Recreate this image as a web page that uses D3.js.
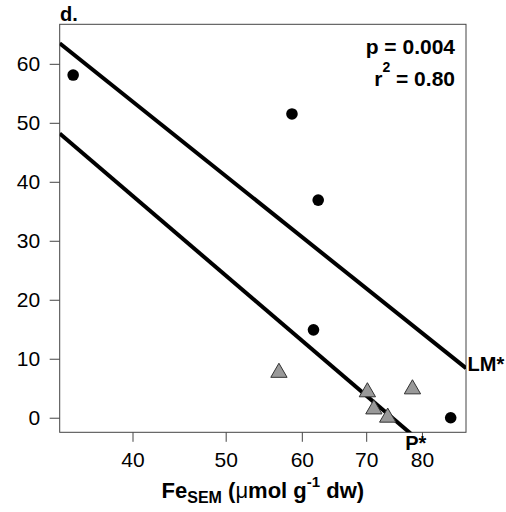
<!DOCTYPE html>
<html>
<head>
<meta charset="utf-8">
<script src="https://cdn.jsdelivr.net/npm/d3@7"></script>
<style>
  body { margin: 0; background: #fff; }
  svg { font-family: "Liberation Sans", Arial, Helvetica, sans-serif; }
</style>
</head>
<body>
<svg id="chart" width="506" height="512"></svg>
<script>
// ---- data
const lmFe  = [34.7, 58.6, 62.4, 61.7, 85.7];   // black points (LM)
const lmVal = [58.1, 51.5, 36.9, 14.9, 0.0];
const pFe   = [56.8, 70.2, 71.3, 73.7, 78.2];   // grey triangles (P)
const pVal  = [7.9, 4.6, 1.7, 0.3, 5.1];
// fits: y = a + b * ln(x)
const lmFit = [262.4, -56.6];
const pFit  = [260.8, -60.5];
const xTicks = [40, 50, 60, 70, 80];
const yTicks = [0, 10, 20, 30, 40, 50, 60];
const xDomain = [33.6, 88.9];
const yDomain = [-2.47, 66.7];

const svg = d3.select('#chart');
const box = { left: 59.7, right: 466, top: 24.3, bottom: 432.3 };

const x = d3.scaleLog().domain(xDomain).range([box.left, box.right]);
const y = d3.scaleLinear().domain(yDomain).range([box.bottom, box.top]);

// ---- clip for the fit lines
svg.append('clipPath').attr('id', 'plotclip')
  .append('rect')
  .attr('x', box.left).attr('y', box.top)
  .attr('width', box.right - box.left).attr('height', box.bottom - box.top);

// ---- axes
const xAxis = d3.axisBottom(x).tickValues(xTicks).tickFormat(d3.format('d'))
  .tickSize(9.5).tickPadding(10).tickSizeOuter(0);
const gx = svg.append('g').attr('transform', `translate(0,${box.bottom})`).call(xAxis);

const yAxis = d3.axisLeft(y).tickValues(yTicks).tickFormat(d3.format('d'))
  .tickSize(10).tickPadding(9.5).tickSizeOuter(0);
const gy = svg.append('g').attr('transform', `translate(${box.left},0)`).call(yAxis);

[gx, gy].forEach(g => {
  g.select('.domain').remove();
  g.selectAll('.tick line').attr('stroke', '#444').attr('stroke-width', 1);
  g.selectAll('.tick text').attr('fill', '#000').style('font-size', '21px')
    .style('font-family', '"Liberation Sans", Arial, sans-serif');
});

// ---- box
svg.append('rect')
  .attr('x', box.left).attr('y', box.top)
  .attr('width', box.right - box.left).attr('height', box.bottom - box.top)
  .attr('fill', 'none').attr('stroke', '#444').attr('stroke-width', 1);

// ---- fit lines (straight on a log-x axis)
const fitY = (f, v) => f[0] + f[1] * Math.log(v);
const lines = svg.append('g').attr('clip-path', 'url(#plotclip)');
[lmFit, pFit].forEach(f => {
  const pts = xDomain.map(v => [x(v), y(fitY(f, v))]);
  lines.append('path')
    .attr('d', d3.line()(pts))
    .attr('fill', 'none').attr('stroke', '#000').attr('stroke-width', 4);
});

// ---- points
svg.append('g').selectAll('circle')
  .data(lmFe.map((v, i) => [v, lmVal[i]]))
  .join('circle')
  .attr('cx', d => x(d[0])).attr('cy', d => y(d[1]))
  .attr('r', 5.8).attr('fill', '#000');

const tri = d3.symbol().type(d3.symbolTriangle).size(115);
svg.append('g').selectAll('path')
  .data(pFe.map((v, i) => [v, pVal[i]]))
  .join('path')
  .attr('d', tri)
  .attr('transform', d => `translate(${x(d[0])},${y(d[1]) + 1.5})`)
  .attr('fill', '#999').attr('stroke', '#333').attr('stroke-width', 1);

// ---- line labels
const lmEndY = y(fitY(lmFit, xDomain[1]));
svg.append('text')
  .attr('x', box.right + 1.5).attr('y', lmEndY + 3)
  .style('font-size', '20px').style('font-weight', 'bold')
  .text('LM*');

// where the P line leaves through the bottom of the box
const pExitX = x(Math.exp((yDomain[0] - pFit[0]) / pFit[1]));
svg.append('text')
  .attr('x', pExitX - 4).attr('y', box.bottom + 17.5)
  .style('font-size', '20px').style('font-weight', 'bold')
  .text('P*');

// ---- stats
svg.append('text')
  .attr('x', 455).attr('y', 54).attr('text-anchor', 'end')
  .style('font-size', '21px').style('font-weight', 'bold')
  .text('p = 0.004');

const r2 = svg.append('text')
  .attr('x', 455).attr('y', 86).attr('text-anchor', 'end')
  .style('font-size', '21px').style('font-weight', 'bold');
r2.append('tspan').text('r');
r2.append('tspan').attr('dy', -14).style('font-size', '14px').text('2');
r2.append('tspan').attr('dy', 14).text(' = 0.80');

// ---- panel letter
svg.append('text')
  .attr('x', 60).attr('y', 21)
  .style('font-size', '20px').style('font-weight', 'bold')
  .text('d.');

// ---- x axis title
const xt = svg.append('text')
  .attr('x', (box.left + box.right) / 2).attr('y', 498)
  .attr('text-anchor', 'middle')
  .style('font-size', '22px').style('font-weight', 'bold');
xt.append('tspan').text('Fe');
xt.append('tspan').attr('dy', 5).style('font-size', '16px').text('SEM');
xt.append('tspan').attr('dy', -5).text(' (');
xt.append('tspan').style('font-weight', 'normal').text('\u03bc');
xt.append('tspan').text('mol g');
xt.append('tspan').attr('dy', -11).style('font-size', '15px').text('-1');
xt.append('tspan').attr('dy', 11).text(' dw)');
</script>
</body>
</html>
